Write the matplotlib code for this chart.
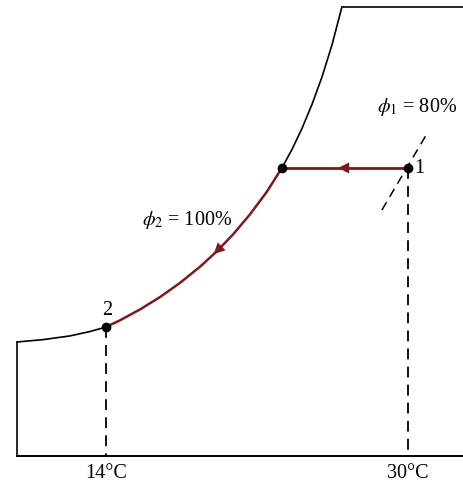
import matplotlib
matplotlib.use("Agg")
import matplotlib.pyplot as plt

plt.rcParams['font.family'] = ['Liberation Serif', 'DejaVu Serif']
plt.rcParams['mathtext.fontset'] = 'stix'

# Saturation curve (phi = 100%): temperature (°C), humidity ratio (g/kg)
sat_T = [9.285, 10.662, 12.093, 13.152, 14.0,
         14.742, 15.801, 16.861, 17.921, 18.980, 19.881, 20.728, 21.629, 22.530, 23.32,
         23.854, 24.384, 24.914, 25.444, 25.974, 26.50]
sat_w = [8.84, 9.02, 9.31, 9.65, 10.0,
         10.52, 11.36, 12.32, 13.42, 14.67, 15.88, 17.17, 18.73, 20.50, 22.33,
         23.76, 25.39, 27.25, 29.38, 31.86, 34.81]

# States
T1, w1 = 30.0, 22.33      # state 1
T2, w2 = 14.0, 10.0       # state 2
Tdp = 23.32               # dew point of state 1

# phi1 = 80% curve segment
phi1_T = [28.62, 31.06]
phi1_w = [19.07, 25.12]

T_left, T_right = 9.285, 34.0
w_top = 34.81

tick_T = [14, 30]
tick_labels = ['14°C', '30°C']

red = '#7a1c1c'

fig = plt.figure(figsize=(4.64, 4.84), dpi=100)
ax = fig.add_axes([0, 0, 1, 1])
ax.set_xlim(8.384, 32.97)
ax.set_ylim(-2.17, 35.35)
ax.axis('off')

# split saturation curve
i2 = sat_T.index(T2)
idp = sat_T.index(Tdp)
kw = dict(solid_joinstyle='round', solid_capstyle='round')
ax.plot(sat_T[:i2 + 1], sat_w[:i2 + 1], color='black', lw=1.2, **kw)
ax.plot(sat_T[i2:idp + 1], sat_w[i2:idp + 1], color=red, lw=1.8, **kw)
ax.plot(sat_T[idp:], sat_w[idp:], color='black', lw=1.2, **kw)

# chart outline
ax.plot([sat_T[-1], T_right], [w_top, w_top], color='black', lw=1.2)
ax.plot([T_left, T_left], [sat_w[0], 0], color='black', lw=1.2)
ax.plot([T_left, T_right], [0, 0], color='black', lw=1.4)

# cooling process 1 -> dew point
ax.plot([T1, Tdp], [w1, w1], color=red, lw=2.0)
ax.annotate('', xy=(26.15, w1), xytext=(27.3, w1),
            arrowprops=dict(arrowstyle='-|>', color=red, lw=0, mutation_scale=20))
ax.annotate('', xy=(19.6, 15.5), xytext=(20.34, 16.55),
            arrowprops=dict(arrowstyle='-|>', color=red, lw=0, mutation_scale=20))

# dashed lines
ax.plot(phi1_T, phi1_w, color='black', lw=1.1, dashes=(6, 4))
ax.plot([T1, T1], [w1, 0], color='black', lw=1.3, dashes=(6, 4))
ax.plot([T2, T2], [w2, 0], color='black', lw=1.3, dashes=(6, 4))

# points
ax.plot([T1, Tdp, T2], [w1, w1, w2], 'o', color='black', ms=6)

# labels
fs = 14.5
ax.text(30.48, 27.05, r'$\phi_1$ = 80%', ha='center', va='center', fontsize=fs)
ax.text(18.29, 18.29, r'$\phi_2$ = 100%', ha='center', va='center', fontsize=fs)
ax.text(30.35, 22.25, '1', ha='left', va='center', fontsize=fs)
ax.text(14.05, 11.25, '2', ha='center', va='center', fontsize=fs)
for t, lab in zip(tick_T, tick_labels):
    ax.text(t, -1.35, lab, ha='center', va='center', fontsize=fs)

fig.savefig('out.png', dpi=100)
